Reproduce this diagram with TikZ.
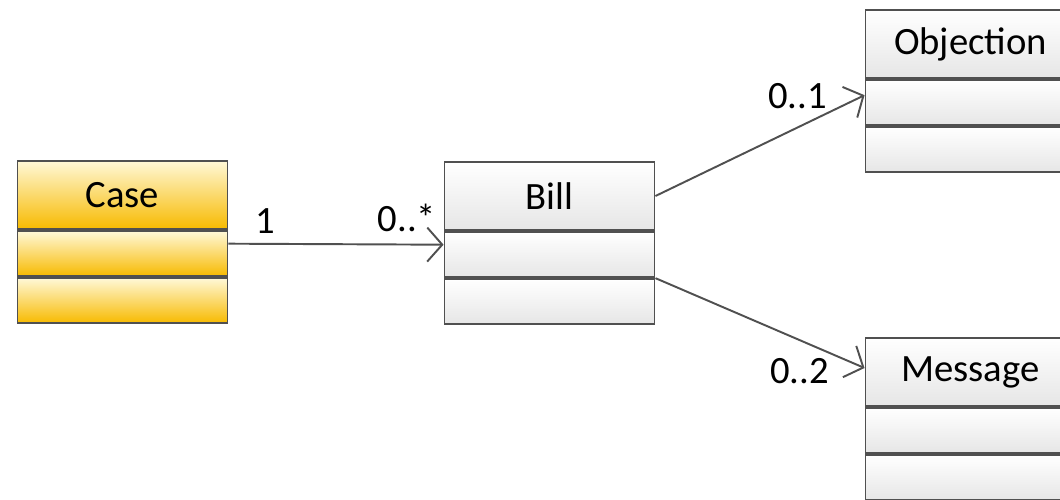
\documentclass[tikz,border=0pt]{standalone}
\usepackage{fontspec}
\setmainfont{Carlito}
\usetikzlibrary{positioning,arrows.meta}

\definecolor{casetop}{RGB}{255,248,215}
\definecolor{casebot}{RGB}{247,186,0}
\definecolor{greytop}{RGB}{255,255,255}
\definecolor{greybot}{RGB}{230,230,230}
\definecolor{edge}{RGB}{80,80,80}

\begin{document}
\begin{tikzpicture}[font=\fontsize{22}{26}\selectfont]

	\tikzstyle{klass}=[rectangle, draw=edge, line width=1.1pt, minimum width=4.2cm, inner sep=0pt, top color=greytop, bottom color=greybot]
	\tikzstyle{head}=[klass, minimum height=1.37cm]
	\tikzstyle{comp}=[klass, minimum height=0.9cm]
	\tikzstyle{gold}=[top color=casetop, bottom color=casebot]
	\tikzstyle{assoc}=[draw=edge, line width=1.1pt, -{Straight Barb[length=3mm, width=6.8mm]}]

	\useasboundingbox (0,0) rectangle (21.2,9.98);
	\clip (0,0) rectangle (21.2,9.98);

	\coordinate (case) at (2.45, 6.08); % CASE
	\coordinate (bill) at (10.99, 6.06); % BILL
	\coordinate (objection) at (19.41, 9.10); % OBJECTION
	\coordinate (message) at (19.41, 2.54); % MESSAGE

	\node[head, gold] (case) at (case) {Case}; % CASE
	\node[comp, gold, below=0pt of case] (case_a) {};
	\node[comp, gold, below=0pt of case_a] (case_b) {};

	\node[head] (bill) at (bill) {Bill}; % BILL
	\node[comp, below=0pt of bill] (bill_a) {};
	\node[comp, below=0pt of bill_a] (bill_b) {};

	\node[head] (objection) at (objection) {Objection}; % OBJECTION
	\node[comp, below=0pt of objection] (objection_a) {};
	\node[comp, below=0pt of objection_a] (objection_b) {};

	\node[head] (message) at (message) {Message}; % MESSAGE
	\node[comp, below=0pt of message] (message_a) {};
	\node[comp, below=0pt of message_a] (message_b) {};

	\draw[assoc] ([yshift=0.2cm]case_a.east) -- node[pos=0.17, above=0.08cm] (m_case) {1} node[pos=0.83, above=0.12cm] (m_bill) {0..*} ([yshift=0.2cm]bill_a.west);
	\draw[assoc] (bill.east) -- node[pos=0.68, above=0.24cm] (m_objection) {0..1} ([yshift=0.15cm]objection_a.west);
	\draw[assoc] (bill_a.south east) -- node[pos=0.69, below=0.22cm] (m_message) {0..2} ([yshift=0.08cm]message.west);

\end{tikzpicture}
\end{document}
